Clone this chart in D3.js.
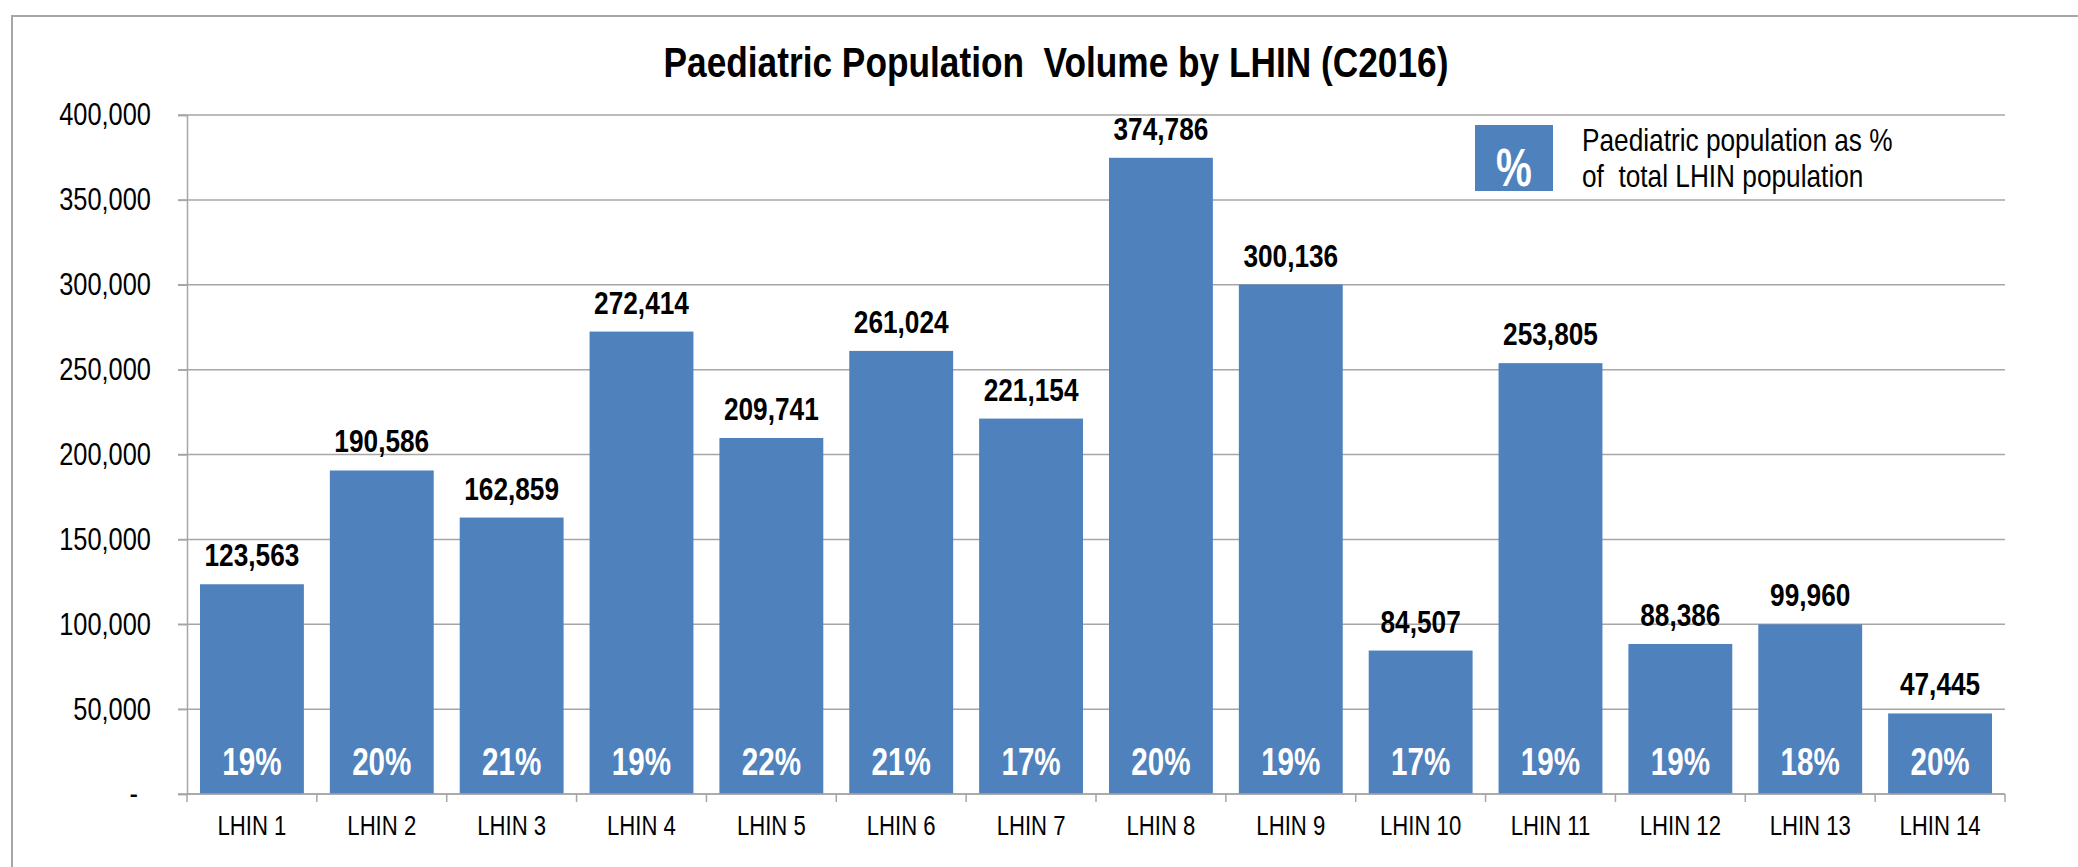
<!DOCTYPE html>
<html>
<head>
<meta charset="utf-8">
<script src="https://cdn.jsdelivr.net/npm/d3@7"></script>
<style>
  body { margin: 0; background: #fff; }
  svg { display: block; }
  text { font-family: "Liberation Sans", Arial, sans-serif; white-space: pre; }
</style>
</head>
<body>
<div id="chart"></div>
<script>
const categories = ["LHIN 1", "LHIN 2", "LHIN 3", "LHIN 4", "LHIN 5", "LHIN 6", "LHIN 7",
    "LHIN 8", "LHIN 9", "LHIN 10", "LHIN 11", "LHIN 12", "LHIN 13", "LHIN 14"];
const volumes = [123563, 190586, 162859, 272414, 209741, 261024, 221154,
    374786, 300136, 84507, 253805, 88386, 99960, 47445];
const shares = [19, 20, 21, 19, 22, 21, 17, 20, 19, 17, 19, 19, 18, 20];
const yTicks = [0, 50000, 100000, 150000, 200000, 250000, 300000, 350000, 400000];
const titleText = "Paediatric Population  Volume by LHIN (C2016)";
const legendLines = ["Paediatric population as %", "of  total LHIN population"];

const WIDTH = 2078, HEIGHT = 867;
const PLOT_LEFT = 187, PLOT_RIGHT = 2005, PLOT_TOP = 115, PLOT_BOTTOM = 794;
const BAR_COLOR = "#4f81bd";
const GRID_COLOR = "#a6a6a6";
const NARROW = 0.82; // no Arial Narrow here, so squeeze Liberation Sans

// squeeze text horizontally while keeping its anchor point in place
function narrow(sel, factor = NARROW) {
    sel.each(function () {
        const t = d3.select(this);
        const x = +t.attr("x") || 0;
        const dx = +t.attr("dx") || 0;
        t.attr("x", x / factor)
            .attr("dx", dx / factor)
            .attr("transform", `scale(${factor},1)`);
    });
}

const svg = d3.select("#chart").append("svg")
    .attr("width", WIDTH)
    .attr("height", HEIGHT);

// outer frame
svg.append("rect")
    .attr("x", 12).attr("y", 16)
    .attr("width", WIDTH + 20).attr("height", HEIGHT + 20)
    .attr("fill", "none")
    .attr("stroke", GRID_COLOR)
    .attr("stroke-width", 2);

// title
svg.append("text")
    .attr("x", 1056).attr("y", 77)
    .attr("text-anchor", "middle")
    .style("font-size", "43px")
    .style("font-weight", "bold")
    .text(titleText)
    .call(narrow);

const data = categories.map((c, i) => ({cat: c, value: volumes[i], share: shares[i]}));

const x = d3.scaleBand()
    .domain(categories)
    .range([PLOT_LEFT, PLOT_RIGHT])
    .paddingInner(0.2)
    .paddingOuter(0.1);

const y = d3.scaleLinear()
    .domain([0, 400000])
    .range([PLOT_BOTTOM, PLOT_TOP]);

// gridlines (with the small outside tick)
svg.append("g")
    .selectAll("line")
    .data(yTicks)
    .join("line")
    .attr("x1", PLOT_LEFT - 9)
    .attr("x2", PLOT_RIGHT)
    .attr("y1", d => y(d))
    .attr("y2", d => y(d))
    .attr("stroke", GRID_COLOR)
    .attr("stroke-width", 1.5);

// y axis labels
const yAxis = svg.append("g")
    .attr("transform", `translate(${PLOT_LEFT},0)`)
    .call(d3.axisLeft(y)
        .tickValues(yTicks)
        .tickSize(9)
        .tickPadding(27)
        .tickFormat(d => d === 0 ? "-" : d3.format(",")(d)));
yAxis.select(".domain").attr("stroke", GRID_COLOR).attr("stroke-width", 1.5);
yAxis.selectAll(".tick line").attr("stroke", GRID_COLOR).attr("stroke-width", 1.5);
yAxis.selectAll(".tick text")
    .style("font-size", "31px")
    .attr("fill", "#000")
    .attr("dx", d => d === 0 ? -13 : 0)
    .call(narrow);

// bars
svg.append("g")
    .selectAll("rect")
    .data(data)
    .join("rect")
    .attr("x", d => x(d.cat))
    .attr("y", d => y(d.value))
    .attr("width", x.bandwidth())
    .attr("height", d => y(0) - y(d.value))
    .attr("fill", BAR_COLOR);

// x axis: baseline and ticks between categories
const step = x.step();
const bounds = d3.range(categories.length + 1).map(i => PLOT_LEFT + i * step);
svg.append("line")
    .attr("x1", PLOT_LEFT).attr("x2", PLOT_RIGHT)
    .attr("y1", y(0)).attr("y2", y(0))
    .attr("stroke", GRID_COLOR).attr("stroke-width", 1.5);
svg.append("g")
    .selectAll("line")
    .data(bounds)
    .join("line")
    .attr("x1", d => d).attr("x2", d => d)
    .attr("y1", y(0)).attr("y2", y(0) + 8)
    .attr("stroke", GRID_COLOR).attr("stroke-width", 1.5);

svg.append("g")
    .selectAll("text")
    .data(data)
    .join("text")
    .attr("x", d => x(d.cat) + x.bandwidth() / 2)
    .attr("y", 835)
    .attr("text-anchor", "middle")
    .style("font-size", "27px")
    .text(d => d.cat)
    .call(narrow);

// value labels
svg.append("g")
    .selectAll("text")
    .data(data)
    .join("text")
    .attr("x", d => x(d.cat) + x.bandwidth() / 2)
    .attr("y", d => y(d.value) - 18)
    .attr("text-anchor", "middle")
    .style("font-size", "32px")
    .style("font-weight", "bold")
    .text(d => d3.format(",")(d.value))
    .call(narrow);

// share labels inside bars
svg.append("g")
    .selectAll("text")
    .data(data)
    .join("text")
    .attr("x", d => x(d.cat) + x.bandwidth() / 2)
    .attr("y", y(0) - 19)
    .attr("text-anchor", "middle")
    .attr("fill", "#fff")
    .style("font-size", "39px")
    .style("font-weight", "bold")
    .text(d => d.share + "%")
    .call(narrow, 0.76);

// legend
const legend = svg.append("g");
legend.append("rect")
    .attr("x", 1475).attr("y", 125)
    .attr("width", 78).attr("height", 66)
    .attr("fill", BAR_COLOR);
legend.append("text")
    .attr("x", 1514).attr("y", 186)
    .attr("text-anchor", "middle")
    .attr("fill", "#fff")
    .style("font-size", "53px")
    .style("font-weight", "bold")
    .text("%")
    .call(narrow, 0.76);
legend.selectAll(".leg-line")
    .data(legendLines)
    .join("text")
    .attr("class", "leg-line")
    .attr("x", 1582)
    .attr("y", (d, i) => 151 + i * 36)
    .style("font-size", "32px")
    .text(d => d)
    .call(narrow);
</script>
</body>
</html>
